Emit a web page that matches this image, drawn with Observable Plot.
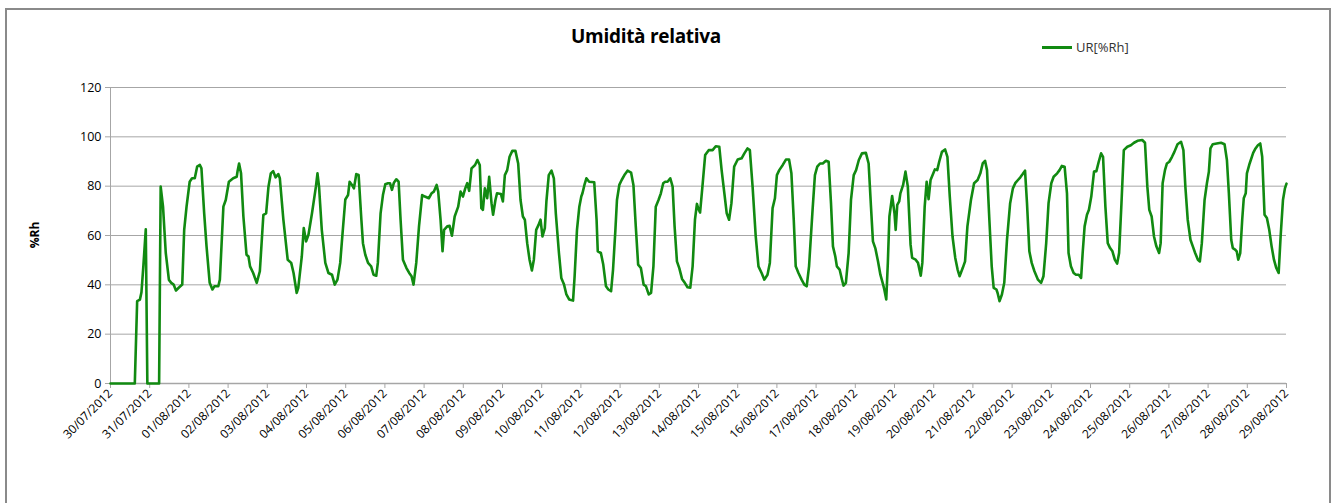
<!DOCTYPE html>
<html>
<head>
<meta charset="utf-8">
<script src="https://cdn.jsdelivr.net/npm/d3@7"></script>
<script src="https://cdn.jsdelivr.net/npm/@observablehq/plot@0.6"></script>
<style>
  html, body { margin: 0; padding: 0; background: #fff; }
  body { width: 1338px; height: 503px; position: relative; overflow: hidden; font-family: "Open Sans", sans-serif; }
  #frame { position: absolute; left: 5px; top: 8px; width: 1326px; height: 520px; border: 2px solid #8a8a8a; box-sizing: border-box; }
  #title { position: absolute; left: 0; width: 1292px; top: 23px; text-align: center; font-weight: bold; font-size: 19px; letter-spacing: -0.3px; color: #000; }
  #legend { position: absolute; left: 1042px; top: 38px; font-size: 13px; color: #333; display: flex; align-items: center; }
  #legend .sw { width: 30px; height: 3px; background: #118a11; margin-right: 4px; }
  #ylabel { position: absolute; left: 34px; top: 235px; transform: translate(-50%, -50%) rotate(-90deg); font-size: 12px; font-weight: bold; color: #000; }
  #chart { position: absolute; left: 0; top: 0; }
</style>
</head>
<body>
<div id="frame"></div>
<div id="title">Umidità relativa</div>
<div id="legend"><div class="sw"></div><span>UR[%Rh]</span></div>
<div id="ylabel">%Rh</div>
<div id="chart"></div>
<script>
// Series: days elapsed since 30/07/2012 00:00 and relative humidity (%Rh)
const startDate = "2012-07-30";
const endDate = "2012-08-29";
const dayOffsets = [
  0.00,0.62,0.68,0.75,0.79,0.84,0.90,0.94,1.24,1.28,1.34,1.41,1.49,1.55,1.61,1.67,1.74,1.83,1.88,1.94,
  2.02,2.08,2.15,2.21,2.28,2.32,2.39,2.45,2.53,2.60,2.65,2.75,2.79,2.88,2.94,3.02,3.13,3.22,3.24,3.28,
  3.33,3.39,3.47,3.52,3.56,3.64,3.73,3.81,3.90,3.97,4.03,4.09,4.15,4.21,4.28,4.32,4.41,4.52,4.61,4.67,
  4.75,4.79,4.88,4.93,4.99,5.05,5.14,5.24,5.28,5.32,5.39,5.48,5.56,5.65,5.72,5.79,5.86,5.92,5.99,
  6.06,6.10,6.16,6.21,6.27,6.33,6.40,6.44,6.50,6.57,6.65,6.71,6.78,6.82,6.89,6.95,7.01,7.08,7.13,7.18,
  7.23,7.29,7.35,7.40,7.46,7.55,7.62,7.68,7.73,7.80,7.87,7.95,8.02,8.12,8.19,8.25,8.32,8.36,8.42,8.47,
  8.51,8.59,8.65,8.71,8.78,8.87,8.93,8.99,9.05,9.10,9.15,9.21,9.30,9.36,9.42,9.46,9.50,9.55,9.61,9.66,
  9.72,9.76,9.82,9.86,9.96,10.01,10.06,10.12,10.18,10.25,10.33,10.40,10.46,10.52,10.57,10.63,10.69,10.75,10.80,10.86,
  10.92,10.97,11.02,11.08,11.12,11.18,11.25,11.31,11.36,11.44,11.50,11.57,11.63,11.70,11.80,11.84,11.90,11.96,12.01,
  12.04,12.09,12.14,12.21,12.34,12.40,12.43,12.51,12.57,12.64,12.70,12.77,12.82,12.88,12.92,12.98,13.04,13.11,13.19,13.28,
  13.34,13.40,13.46,13.53,13.60,13.66,13.73,13.79,13.85,13.91,13.98,14.04,14.10,14.15,14.21,14.28,14.34,14.39,14.45,14.51,
  14.58,14.65,14.72,14.79,14.85,14.91,14.96,14.99,15.04,15.10,15.17,15.26,15.36,15.44,15.53,15.59,15.66,15.72,15.78,15.84,
  15.91,16.00,16.10,16.17,16.25,16.31,16.38,16.46,16.53,16.61,16.68,16.76,16.82,16.89,16.95,17.00,17.06,17.15,17.23,17.31,
  17.37,17.43,17.48,17.55,17.63,17.70,17.76,17.82,17.91,
  17.97,18.03,18.10,18.17,18.25,18.32,18.38,18.43,18.49,18.53,18.60,18.66,18.70,18.76,18.83,18.89,18.96,19.02,19.09,19.17,
  19.27,19.34,19.40,19.45,19.51,19.58,19.64,19.71,19.74,19.79,19.83,19.87,19.94,20.00,20.03,20.07,20.12,20.15,20.22,20.28,
  20.34,20.41,20.45,20.54,20.60,20.67,20.71,20.77,20.82,20.87,20.92,20.99,21.03,21.09,21.14,21.21,21.29,21.35,21.41,21.48,
  21.55,21.61,21.66,21.74,21.80,21.86,21.95,22.03,22.12,22.19,22.25,22.31,22.36,22.42,22.48,22.53,22.60,22.63,22.68,22.74,
  22.80,22.87,22.95,23.02,23.08,23.15,23.21,23.27,23.33,23.38,23.44,23.50,23.57,23.66,23.74,23.80,23.87,23.93,24.00,
  24.06,24.15,24.21,24.27,24.34,24.40,24.44,24.50,24.57,24.63,24.70,24.76,24.80,24.85,24.91,24.96,25.02,25.09,25.15,25.21,
  25.27,25.32,25.38,25.44,25.50,25.56,25.62,25.68,25.73,25.79,25.85,25.94,26.03,26.11,26.20,26.32,26.39,26.45,26.50,26.56,
  26.62,26.68,26.75,26.79,26.84,26.90,26.95,27.01,27.08,27.14,27.22,27.31,27.37,27.42,27.48,27.55,27.61,27.67,27.74,27.79,
  27.84,27.91,27.97,28.02,28.06,28.12,28.22,28.33,28.42,28.48,28.53,28.59,28.63,28.69,28.73,28.77,28.82,28.87,28.91,28.96,
  28.99,29.06,29.15,29.21,29.27,29.33,29.38,29.44,29.50,29.56,29.62,29.68,29.74,29.80,29.85,29.91,29.96,30.00
];
const rhValues = [
  0,0,33.4,34,37,48,62.5,0,0,79.8,71.7,52.9,42,40.8,40.1,37.7,38.8,40.1,62.3,71.7,
  81.8,83.2,83.2,87.9,88.6,87.2,69,55.6,40.8,38.1,39.4,39.4,42.1,71.7,74.4,81.8,83.2,83.8,85.9,89.2,
  85.2,67.7,52.2,51.5,47.5,44.8,40.8,45.5,68.4,69,79.8,85.2,86.1,83.6,84.9,83.2,66.4,50.2,48.9,44.8,
  36.7,38.8,51.5,63,57.6,60.3,69,79.8,85.2,79.8,62.3,48.9,44.8,44.1,40.1,42.1,48.9,61,74.6,
  76.4,81.8,80.5,79.1,84.9,84.5,66.4,56.9,52.2,48.9,47.5,44.1,43.7,48.9,69,76.4,80.8,81.2,81.2,78.5,
  81.4,82.8,81.8,66.4,50.2,46.8,44.8,43.5,40.1,48.9,63.7,76.4,75.8,75.1,77.1,77.8,80.5,77.8,66.4,53.6,
  62.3,63.7,63.9,59.9,67.7,71.7,77.8,75.8,79.1,81.2,78.1,87.2,88.6,90.6,88.6,71.1,70.4,79.1,75.1,83.8,
  73.1,68.4,74.4,77.1,76.8,73.8,84.5,86.5,91.9,94.3,94.3,89.2,74.4,67.7,66.4,56.9,50.2,45.8,50.2,62.3,
  64.3,66.4,59.6,63,73.8,84.5,86.3,83.2,69,52.9,42.8,40.1,36.1,34.1,33.6,43.5,62.3,71.7,75.8,
  77.1,80.5,83.2,81.8,81.6,66.4,53.6,52.9,48.2,39.4,38.1,37.4,46.2,62.3,74.4,80.5,82.5,84.5,86.3,85.5,
  80.5,63.7,48.2,46.8,40.1,39.4,36.1,36.7,47.5,71.7,74.4,77.1,81.2,81.8,81.8,83.2,79.8,63.7,49.5,46.8,
  42.4,40.8,39,38.8,47.5,66.4,72.8,71.1,69.3,79.8,92.6,94.6,94.6,96.2,96,86.5,77.1,69,66.4,73.1,
  87.9,90.8,91.3,93.3,95.3,94.6,79.8,59.6,47.5,44.8,42.1,44.1,48.9,71.1,75.1,84.5,86.5,88.6,90.8,90.8,
  85.2,66.4,47.5,44.8,42.1,40.1,39.4,47.5,70.4,
  84.5,87.9,89.2,89.2,90.3,89.9,73.1,55.6,51.5,47.5,46.2,42.1,39.7,40.8,52.9,74.4,84.5,86.5,90.6,93.3,
  93.5,89.2,71.7,57.6,54.9,49.5,44.1,40.1,38.1,34.1,48.9,67.7,76,69,62.3,72.4,73.8,77.1,80.5,85.9,
  79.8,56.3,50.9,50.2,48.9,43.7,48.9,71.7,81.8,74.7,82.5,85.2,86.8,86.5,89.9,93.9,94.9,91.9,75.8,59.6,
  50.9,46.2,43.5,46.8,49.5,63.7,74.4,81.2,82.5,85.2,89.2,90.3,86.5,66.4,47.5,38.8,38.1,36.7,33.4,36.1,
  40.8,58.3,73.1,79.1,81.2,82.5,83.6,84.9,86.3,73.1,53.6,48.9,45.5,42.1,40.8,43.5,56.9,73.1,81.2,
  83.8,85.2,86.5,88.2,87.9,77.1,52.9,47.5,44.8,44.1,44.1,42.8,52.9,63.7,68.4,70.4,75.8,85.9,86.1,89.9,
  93.3,91.9,71.7,56.9,54.9,53.6,50.2,48.6,52.9,73.1,94.6,96,96.6,97.6,98.4,98.7,97.6,79.8,70.4,67.7,
  59.6,55.6,52.9,56.9,81.2,86.5,89.2,89.9,91.9,93.9,97,98,94.6,79.8,66.4,58.3,55.6,52.9,50.2,49.5,
  56.9,74.4,81.2,85.9,95.3,97,97.3,97.6,97,90.6,77.1,58.3,54.9,54.3,53.6,50.2,52.9,66.4,75.1,77.1,
  85.2,89.2,93.5,95.3,96.6,97.3,91.9,68.4,67.1,62.3,55.6,50.2,46.8,44.8,59.6,74.4,79.1,81
];
const yTicks = [0, 20, 40, 60, 80, 100, 120];
const tickFormat = "%d/%m/%Y";

const t0 = d3.utcParse("%Y-%m-%d")(startDate);
const t1 = d3.utcParse("%Y-%m-%d")(endDate);
const data = dayOffsets.map((d, i) => ({ date: new Date(+t0 + d * 864e5), rh: rhValues[i] }));
const dayTicks = d3.utcDay.range(t0, d3.utcDay.offset(t1, 1));
const grid = "#a6a6a6";

const chart = Plot.plot({
  width: 1338,
  height: 503,
  marginLeft: 110,
  marginRight: 52,
  marginTop: 87,
  marginBottom: 120,
  style: { fontFamily: "Open Sans, sans-serif", fontSize: "12px", color: "#000", background: "transparent", overflow: "visible" },
  x: { type: "utc", domain: [t0, t1] },
  y: { domain: [0, 120] },
  marks: [
    Plot.gridY(yTicks, { stroke: grid, strokeOpacity: 1, strokeWidth: 1 }),
    Plot.ruleX([t0], { stroke: grid, strokeWidth: 1 }),
    Plot.ruleY([0], { stroke: grid, strokeWidth: 1.5 }),
    Plot.axisY(yTicks, { tickSize: 5, tickPadding: 4, stroke: grid, fill: "#000", label: null, fontSize: 12.5 }),
    Plot.axisX(dayTicks, { tickFormat: d3.utcFormat(tickFormat), tickRotate: -45, tickSize: 5, tickPadding: 3, stroke: grid, fill: "#000", label: null, fontSize: 12 }),
    Plot.line(data, { x: "date", y: "rh", stroke: "#118a11", strokeWidth: 2.6, curve: "linear" })
  ]
});
document.getElementById("chart").appendChild(chart);
</script>
</body>
</html>
